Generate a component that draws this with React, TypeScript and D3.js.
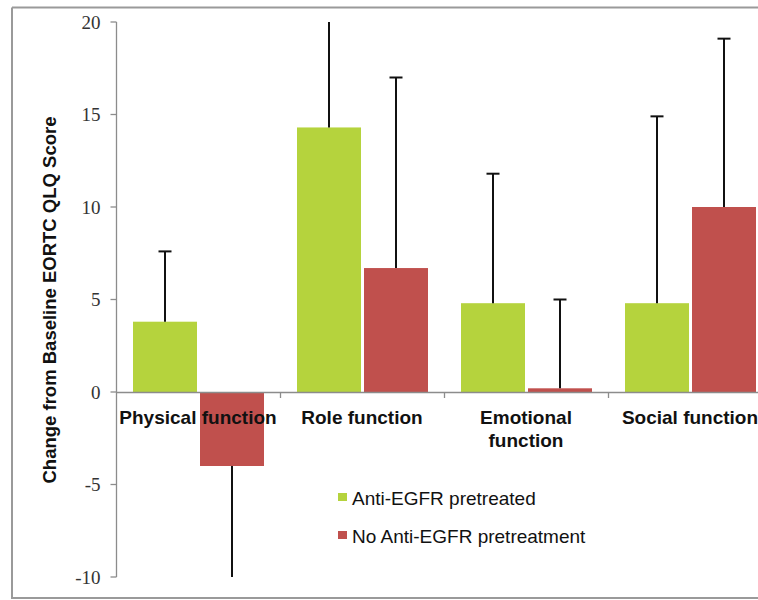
import React, { useEffect, useRef } from "react";
import * as d3 from "d3";

const categories = ["Physical function", "Role function", "Emotional function", "Social function"];
const seriesNames = ["Anti-EGFR pretreated", "No Anti-EGFR pretreatment"];
const pretreated = [3.8, 14.3, 4.8, 4.8];
const pretreatedErr = [3.8, 5.7, 7.0, 10.1];
const noPretreatment = [-4.0, 6.7, 0.2, 10.0];
const noPretreatmentErr = [6.0, 10.3, 4.8, 9.1];
const yTicks = [-10, -5, 0, 5, 10, 15, 20];

const COLORS = ["#b5d33d", "#c0504d"];

function drawChart(svgEl: SVGSVGElement) {
  const width = 758;
  const height = 600;
  const svg = d3.select(svgEl).attr("width", width).attr("height", height);
  svg.selectAll("*").remove();

  // frame
  svg
    .append("path")
    .attr("d", "M12,7.5 H758 M12,7.5 V598 H758")
    .attr("fill", "none")
    .attr("stroke", "#9a9a9a")
    .attr("stroke-width", 2);

  const y = d3.scaleLinear().domain([-10, 20]).range([577, 22]);
  const x0 = d3.scaleBand<string>().domain(categories).range([116, 116 + 164 * 4]);
  const x1 = d3
    .scaleBand<number>()
    .domain([0, 1])
    .range([17, 148])
    .paddingInner(6 / 134);

  // y axis
  const yAxis = svg.append("g").attr("transform", "translate(116.5,0)");
  yAxis
    .append("line")
    .attr("y1", y(20))
    .attr("y2", y(-10))
    .attr("stroke", "#8c8c8c")
    .attr("stroke-width", 1.3);
  yAxis
    .selectAll("g.tick")
    .data(yTicks)
    .enter()
    .append("g")
    .attr("class", "tick")
    .each(function (d) {
      const g = d3.select(this);
      g.append("line")
        .attr("x1", -6)
        .attr("x2", 0)
        .attr("y1", y(d))
        .attr("y2", y(d))
        .attr("stroke", "#8c8c8c")
        .attr("stroke-width", 1.3);
      g.append("text")
        .attr("x", -16)
        .attr("y", y(d))
        .attr("dy", "0.35em")
        .attr("text-anchor", "end")
        .attr("font-family", "'Liberation Serif', 'DejaVu Serif', serif")
        .attr("font-size", 19)
        .attr("fill", "#333")
        .text(d);
    });

  // bars
  const series = [
    { values: pretreated, errs: pretreatedErr },
    { values: noPretreatment, errs: noPretreatmentErr },
  ];
  series.forEach((s, si) => {
    const g = svg.append("g");
    g.selectAll("rect")
      .data(s.values)
      .enter()
      .append("rect")
      .attr("x", (_, i) => x0(categories[i])! + x1(si)!)
      .attr("width", x1.bandwidth())
      .attr("y", (d) => y(Math.max(0, d)))
      .attr("height", (d) => Math.abs(y(d) - y(0)))
      .attr("fill", COLORS[si]);
  });

  // category axis
  svg
    .append("line")
    .attr("x1", 116)
    .attr("x2", width)
    .attr("y1", y(0) + 0.5)
    .attr("y2", y(0) + 0.5)
    .attr("stroke", "#8c8c8c")
    .attr("stroke-width", 1.3);
  svg
    .selectAll("line.ctick")
    .data(categories.slice(1))
    .enter()
    .append("line")
    .attr("class", "ctick")
    .attr("x1", (d) => x0(d)! + 0.5)
    .attr("x2", (d) => x0(d)! + 0.5)
    .attr("y1", y(0))
    .attr("y2", y(0) + 6)
    .attr("stroke", "#8c8c8c")
    .attr("stroke-width", 1.3);

  // error bars
  series.forEach((s, si) => {
    const g = svg.append("g");
    s.values.forEach((v, i) => {
      const cx = x0(categories[i])! + x1(si)! + x1.bandwidth() / 2;
      const end = v >= 0 ? v + s.errs[i] : v - s.errs[i];
      const clipped = Math.max(-10, Math.min(20, end));
      g.append("line")
        .attr("x1", cx)
        .attr("x2", cx)
        .attr("y1", y(v))
        .attr("y2", y(clipped))
        .attr("stroke", "#111")
        .attr("stroke-width", 2);
      if (end > -10 && end < 20) {
        g.append("line")
          .attr("x1", cx - 6.5)
          .attr("x2", cx + 6.5)
          .attr("y1", y(end))
          .attr("y2", y(end))
          .attr("stroke", "#111")
          .attr("stroke-width", 2);
      }
    });
  });

  // category labels
  const labelLines: Record<string, string[]> = {
    "Emotional function": ["Emotional", "function"],
  };
  categories.forEach((c) => {
    const lines = labelLines[c] || [c];
    const cx = x0(c)! + x0.bandwidth() / 2;
    const t = svg
      .append("text")
      .attr("x", cx)
      .attr("y", 424)
      .attr("text-anchor", "middle")
      .attr("font-family", "'Liberation Sans', Arial, sans-serif")
      .attr("font-weight", "bold")
      .attr("font-size", 19)
      .attr("fill", "#111");
    lines.forEach((l, li) => {
      t.append("tspan")
        .attr("x", cx)
        .attr("dy", li === 0 ? 0 : 23)
        .text(l);
    });
  });

  // y title
  svg
    .append("text")
    .attr("transform", "translate(56,300) rotate(-90)")
    .attr("text-anchor", "middle")
    .attr("font-family", "'Liberation Sans', Arial, sans-serif")
    .attr("font-weight", "bold")
    .attr("font-size", 18.5)
    .attr("fill", "#111")
    .text("Change from Baseline EORTC QLQ Score");

  // legend
  const legend = svg.append("g");
  seriesNames.forEach((name, i) => {
    const ly = 505 + i * 38;
    legend
      .append("rect")
      .attr("x", 338)
      .attr("y", ly - 12)
      .attr("width", 9)
      .attr("height", 8)
      .attr("fill", COLORS[i]);
    legend
      .append("text")
      .attr("x", 352)
      .attr("y", ly)
      .attr("font-family", "'Liberation Sans', Arial, sans-serif")
      .attr("font-size", 19)
      .attr("fill", "#111")
      .text(name);
  });
}

export default function App() {
  const svgEl = useRef<SVGSVGElement>(null);

  useEffect(() => {
    if (!svgEl.current) return;
    drawChart(svgEl.current);
  }, []);

  return (
    <div style={{ position: "fixed", left: 0, top: 0, background: "#fff" }}>
      <svg ref={svgEl} style={{ display: "block" }}></svg>
    </div>
  );
}
